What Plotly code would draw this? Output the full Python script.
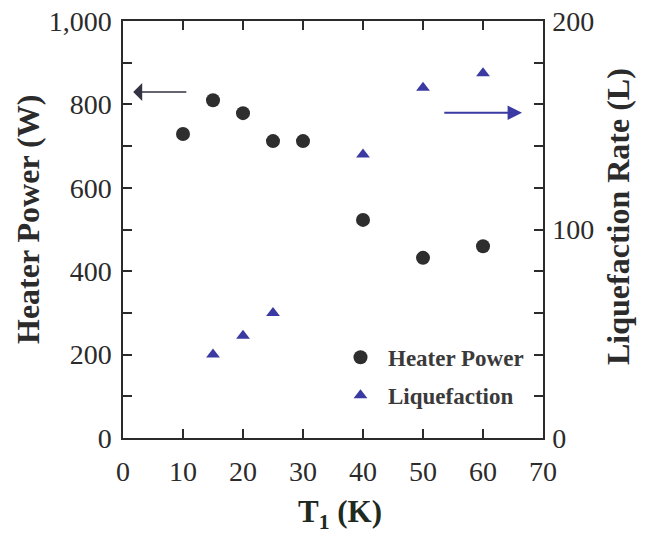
import plotly.graph_objects as go

# Data
temp_heater = [10, 15, 20, 25, 30, 40, 50, 60]
heater_power = [729, 810, 779, 712, 712, 523, 432, 460]
temp_liq = [15, 20, 25, 40, 50, 60]
liquefaction = [40, 49, 60, 136, 168, 175]

x_ticks = [0, 10, 20, 30, 40, 50, 60, 70]

FONT = "Liberation Serif"
DARK = "#2b2b2b"
BLUE = "#3a3aa2"

fig = go.Figure()
fig.add_trace(go.Scatter(
    x=temp_heater, y=heater_power, mode="markers", name="<b>Heater Power</b>", legendgroup="a",
    marker=dict(symbol="circle", size=14, color="#2e2e2e"),
))
fig.add_trace(go.Scatter(
    x=temp_liq, y=liquefaction, mode="markers", name="<b>Liquefaction</b>", legendgroup="b",
    marker=dict(symbol="triangle-up", size=12, color=BLUE), yaxis="y2",
))

# direction arrows (data coordinates)
left_arrow = dict(x=1.7, y=830, ax=10.8, ay=830)
right_arrow = dict(x=66.5, y=156, ax=53.3, ay=156)

fig.add_annotation(x=left_arrow["x"], y=left_arrow["y"], ax=left_arrow["ax"], ay=left_arrow["ay"],
                   xref="x", yref="y", axref="x", ayref="y", text="", showarrow=True,
                   arrowhead=1, arrowsize=2.0, arrowwidth=1.5, arrowcolor="#333344")
fig.add_annotation(x=right_arrow["x"], y=right_arrow["y"], ax=right_arrow["ax"], ay=right_arrow["ay"],
                   xref="x", yref="y2", axref="x", ayref="y2", text="", showarrow=True,
                   arrowhead=2, arrowsize=1.6, arrowwidth=1.8, arrowcolor=BLUE)

# axis titles placed as annotations (pixel positions, converted below)
fig.add_annotation(x=28, y=220, text="<b>Heater Power (W)</b>",
                   showarrow=False, textangle=-90, font=dict(family=FONT, size=32, color=DARK))
fig.add_annotation(x=618, y=217, text="<b>Liquefaction Rate (L)</b>",
                   showarrow=False, textangle=-90, font=dict(family=FONT, size=32, color=DARK))
fig.add_annotation(x=340, y=514, text="<b>T<sub>1</sub> (K)</b>",
                   showarrow=False, font=dict(family=FONT, size=31, color="#1f2a1f"))

W, H = 645, 538
L, R, T, B = 123, 102, 21, 100
pw, ph = W - L - R, H - T - B
for ann in fig.layout.annotations[2:]:
    ann.xref = "paper"
    ann.yref = "paper"
    ann.x = (ann.x - L) / pw
    ann.y = (H - B - ann.y) / ph
    ann.xanchor = "center"
    ann.yanchor = "middle"

axis_common = dict(showgrid=False, zeroline=False, showline=True, linecolor=DARK, linewidth=1.5,
                   ticks="inside", ticklen=9, tickwidth=1.5, tickcolor=DARK, automargin=False,
                   tickfont=dict(family=FONT, size=28, color=DARK))

fig.update_layout(
    width=W, height=H,
    margin=dict(l=L, r=R, t=T, b=B),
    paper_bgcolor="white", plot_bgcolor="white",
    font=dict(family=FONT, color=DARK),
    xaxis=dict(range=[0, 70], tickvals=x_ticks, mirror="ticks", ticklabelstandoff=8, **axis_common),
    yaxis=dict(range=[0, 1000], dtick=200, tickformat=",", ticklabelstandoff=4,
               minor=dict(dtick=100, ticks="inside", ticklen=9, tickwidth=1.5, tickcolor=DARK),
               **axis_common),
    yaxis2=dict(range=[0, 200], dtick=100, overlaying="y", side="right", ticklabelstandoff=2,
                minor=dict(dtick=20, ticks="inside", ticklen=9, tickwidth=1.5, tickcolor=DARK),
                **axis_common),
    legend=dict(x=0.5, y=0.245, xanchor="left", yanchor="top", bgcolor="rgba(0,0,0,0)",
                font=dict(family=FONT, size=23, color="#3a3a3a"), itemwidth=45, tracegroupgap=5),
    showlegend=True,
)
fig.write_html("out.html", config={"displayModeBar": False},
               post_script="document.body.style.margin='0px';")
